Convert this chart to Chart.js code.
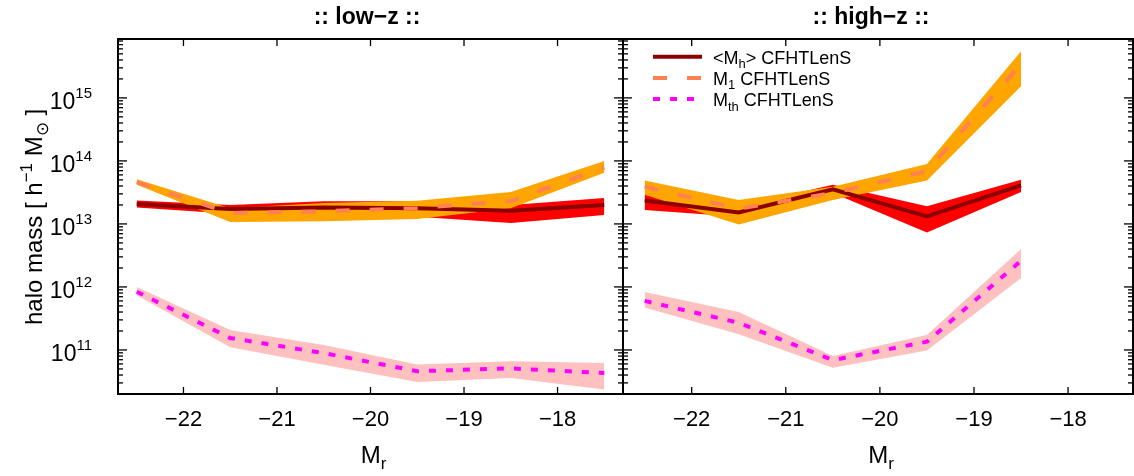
<!DOCTYPE html>
<html>
<head>
<meta charset="utf-8">
<script src="https://cdn.jsdelivr.net/npm/chart.js@4.4.1/dist/chart.umd.min.js"></script>
<style>
  body { margin: 0; background: #fff; }
  #wrap { position: relative; width: 1134px; height: 476px; background: #fff; }
  #wrap canvas { position: absolute; left: 0; top: 0; }
</style>
</head>
<body>
<div id="wrap">
  <canvas id="lowz" width="1134" height="476"></canvas>
  <canvas id="highz" width="1134" height="476"></canvas>
</div>
<script>
// magnitude bin centres
const magLow = [-22.5, -21.5, -20.5, -19.5, -18.5, -17.5];
const magHigh = [-22.5, -21.5, -20.5, -19.5, -18.5];

// low-z : mean halo mass, M1 and Mth with their 1-sigma envelopes
const lowMh   = [2.07e13, 1.72e13, 1.82e13, 1.78e13, 1.62e13, 2.0e13];
const lowMhHi = [2.35e13, 2.0e13, 2.3e13, 2.3e13, 2.0e13, 2.57e13];
const lowMhLo = [1.83e13, 1.45e13, 1.45e13, 1.3e13, 1.03e13, 1.38e13];
const lowM1   = [4.6e13, 1.48e13, 1.59e13, 1.78e13, 2.3e13, 7.9e13];
const lowM1Hi = [5.1e13, 1.78e13, 2.15e13, 2.34e13, 3.2e13, 1.0e14];
const lowM1Lo = [4.2e13, 1.07e13, 1.1e13, 1.2e13, 1.78e13, 6.5e13];
const lowMth   = [8.4e11, 1.55e11, 8.9e10, 4.6e10, 5.1e10, 4.3e10];
const lowMthHi = [1.0e12, 2.07e11, 1.2e11, 5.9e10, 6.6e10, 6.2e10];
const lowMthLo = [7.4e11, 1.1e11, 5.8e10, 3.1e10, 3.6e10, 2.35e10];

// high-z
const highMh   = [2.35e13, 1.52e13, 3.55e13, 1.32e13, 4.1e13];
const highMhHi = [2.9e13, 1.9e13, 4.2e13, 1.9e13, 5.0e13];
const highMhLo = [1.66e13, 1.3e13, 3.1e13, 7.3e12, 3.2e13];
const highM1   = [3.9e13, 1.74e13, 3.1e13, 6.9e13, 3.46e15];
const highM1Hi = [4.9e13, 2.4e13, 3.9e13, 8.9e13, 5.5e15];
const highM1Lo = [2.9e13, 9.8e12, 2.4e13, 4.9e13, 1.53e15];
const highMth   = [6.0e11, 2.7e11, 6.9e10, 1.35e11, 2.6e12];
const highMthHi = [8.3e11, 4.0e11, 8.0e10, 1.73e11, 4.0e12];
const highMthLo = [4.7e11, 1.78e11, 5.2e10, 9.8e10, 1.38e12];

// ticks
const xTicks = [-22, -21, -20, -19, -18];
const yDecades = [11, 12, 13, 14, 15];

// legend rows: [normal, subscript, normal]
const legendRows = [
  ['<M', 'h', '> CFHTLenS'],
  ['M', '1', ' CFHTLenS'],
  ['M', 'th', ' CFHTLenS']
];

const FONT = '"Liberation Sans", Arial, Helvetica, sans-serif';
const C_MH = '#8b0000', C_MH_BAND = '#ff0000';
const C_M1 = '#ff8055', C_M1_BAND = '#ffa500';
const C_MTH = '#ff00ff', C_MTH_BAND = '#ffc0c0';
const DASH_M1 = [14, 20], DASH_MTH = [7, 10];

function pts(xs, ys) {
  return ys.map((y, i) => ({ x: xs[i], y: y }));
}

// draws a run of text pieces: [kind, text] with kind n / sub / sup
function drawRich(ctx, parts, x, y, size, align, bold) {
  const w = (bold ? 'bold ' : '');
  const m = parts.map(p => {
    const fs = p[0] === 'n' ? size : Math.round(size * 0.7);
    ctx.font = w + fs + 'px ' + FONT;
    return { k: p[0], t: p[1], fs: fs, w: ctx.measureText(p[1]).width };
  });
  const total = m.reduce((s, p) => s + p.w, 0);
  let cx = align === 'center' ? x - total / 2 : (align === 'right' ? x - total : x);
  ctx.textAlign = 'left';
  ctx.textBaseline = 'alphabetic';
  m.forEach(p => {
    ctx.font = w + p.fs + 'px ' + FONT;
    const dy = p.k === 'sub' ? size * 0.25 : (p.k === 'sup' ? -size * 0.42 : 0);
    ctx.fillText(p.t, cx, y + dy);
    cx += p.w;
  });
}

function seg(ctx, x1, y1, x2, y2) {
  ctx.beginPath();
  ctx.moveTo(x1, y1);
  ctx.lineTo(x2, y2);
  ctx.stroke();
}

// frame, inward ticks, labels, titles and the key
const panelDecor = {
  id: 'panelDecor',
  afterDraw(chart, args, o) {
    const ctx = chart.ctx;
    const a = chart.chartArea;
    const xs = chart.scales.x, ys = chart.scales.y;
    ctx.save();
    ctx.strokeStyle = '#000';
    ctx.fillStyle = '#000';

    // y ticks, log spaced, on both sides
    ctx.lineWidth = 1.3;
    for (let n = 10; n <= 15; n++) {
      for (let k = 1; k <= 9; k++) {
        const v = k * Math.pow(10, n);
        if (v <= ys.min || v >= ys.max) continue;
        const py = ys.getPixelForValue(v);
        const len = k === 1 ? 9 : 5;
        seg(ctx, a.left, py, a.left + len, py);
        seg(ctx, a.right, py, a.right - len, py);
      }
    }
    // x ticks, bottom and top
    xTicks.forEach(t => {
      const px = xs.getPixelForValue(t);
      seg(ctx, px, a.bottom, px, a.bottom - 7);
      seg(ctx, px, a.top, px, a.top + 7);
    });

    ctx.lineWidth = 2;
    ctx.strokeRect(a.left, a.top, a.right - a.left, a.bottom - a.top);

    // panel title
    ctx.font = 'bold 23px ' + FONT;
    ctx.textAlign = 'center';
    ctx.textBaseline = 'alphabetic';
    ctx.fillText(o.title, o.titleX, 24);

    // x axis title
    drawRich(ctx, [['n', 'M'], ['sub', 'r']], (a.left + a.right) / 2 + 3, 463, 24, 'center');

    if (o.yLabels) {
      yDecades.forEach(n => {
        const py = ys.getPixelForValue(Math.pow(10, n));
        ctx.font = '15px ' + FONT;
        const we = ctx.measureText(String(n)).width;
        const right = a.left - 26;
        ctx.textAlign = 'left';
        ctx.fillText(String(n), right - we, py);
        ctx.font = '23px ' + FONT;
        ctx.textAlign = 'right';
        ctx.fillText('10', right - we, py + 11.5);
      });
      // y axis title, rotated
      ctx.save();
      ctx.translate(42, 217);
      ctx.rotate(-Math.PI / 2);
      drawRich(ctx, [['n', 'halo mass [ h'], ['sup', '\u22121'], ['n', ' M'], ['sub', '\u2299'], ['n', ' ]']], 0, 0, 24, 'center');
      ctx.restore();
    }

    if (o.legend) {
      const styles = [
        { c: C_MH, d: [] },
        { c: C_M1, d: DASH_M1 },
        { c: C_MTH, d: DASH_MTH }
      ];
      legendRows.forEach((row, i) => {
        const ly = 56.7 + i * 21.2;
        ctx.strokeStyle = styles[i].c;
        ctx.lineWidth = 4;
        ctx.setLineDash(styles[i].d);
        seg(ctx, 653, ly, 702, ly);
        ctx.setLineDash([]);
        ctx.fillStyle = '#000';
        drawRich(ctx, [['n', row[0]], ['sub', row[1]], ['n', row[2]]], 713, ly + 7, 18, 'left');
      });
    }
    ctx.restore();
  }
};

function bandSets(list, xs, hi, lo, color, order) {
  const idx = list.length;
  list.push({
    data: pts(xs, hi), fill: idx + 1, backgroundColor: color,
    borderColor: 'rgba(0,0,0,0)', borderWidth: 0, pointRadius: 0, order: order
  });
  list.push({
    data: pts(xs, lo), fill: false,
    borderColor: 'rgba(0,0,0,0)', borderWidth: 0, pointRadius: 0, order: order
  });
}

function lineSet(list, xs, ys, color, dash, order) {
  list.push({
    data: pts(xs, ys), fill: false, borderColor: color, borderWidth: 4,
    borderDash: dash, borderCapStyle: 'butt', borderJoinStyle: 'miter',
    pointRadius: 0, order: order
  });
}

function makePanel(id, xs, d, xr, yWidth, rightPad, deco) {
  const sets = [];
  bandSets(sets, xs, d.mhHi, d.mhLo, C_MH_BAND, 30);
  bandSets(sets, xs, d.m1Hi, d.m1Lo, C_M1_BAND, 20);
  bandSets(sets, xs, d.mthHi, d.mthLo, C_MTH_BAND, 10);
  lineSet(sets, xs, d.mh, C_MH, [], 3);
  lineSet(sets, xs, d.m1, C_M1, DASH_M1, 2);
  lineSet(sets, xs, d.mth, C_MTH, DASH_MTH, 1);

  return new Chart(id, {
    type: 'line',
    data: { datasets: sets },
    options: {
      responsive: false,
      animation: false,
      events: [],
      layout: { padding: { top: 39, right: rightPad, left: 0, bottom: 0 } },
      plugins: {
        legend: { display: false },
        tooltip: { enabled: false },
        filler: { drawTime: 'beforeDatasetsDraw' },
        panelDecor: deco
      },
      scales: {
        x: {
          type: 'linear', min: xr[0], max: xr[1],
          afterFit: s => { s.height = 82; },
          grid: { display: false }, border: { display: false },
          ticks: {
            stepSize: 1, includeBounds: false, color: '#000', padding: 5,
            font: { family: FONT, size: 22 },
            callback: v => (v < 0 ? '\u2212' : '') + Math.abs(v)
          }
        },
        y: {
          type: 'logarithmic', min: 2e10, max: 8.6e15,
          afterFit: s => { s.width = yWidth; },
          grid: { display: false }, border: { display: false },
          ticks: { display: false }
        }
      }
    },
    plugins: [panelDecor]
  });
}

makePanel('lowz', magLow, {
  mh: lowMh, mhHi: lowMhHi, mhLo: lowMhLo,
  m1: lowM1, m1Hi: lowM1Hi, m1Lo: lowM1Lo,
  mth: lowMth, mthHi: lowMthHi, mthLo: lowMthLo
}, [-22.7, -17.3], 118, 511, { title: ':: low\u2212z ::', titleX: 367, yLabels: true, legend: false });

makePanel('highz', magHigh, {
  mh: highMh, mhHi: highMhHi, mhLo: highMhLo,
  m1: highM1, m1Hi: highM1Hi, m1Lo: highM1Lo,
  mth: highMth, mthHi: highMthHi, mthLo: highMthLo
}, [-22.73, -17.31], 623, 1, { title: ':: high\u2212z ::', titleX: 871, yLabels: false, legend: true });
</script>
</body>
</html>
